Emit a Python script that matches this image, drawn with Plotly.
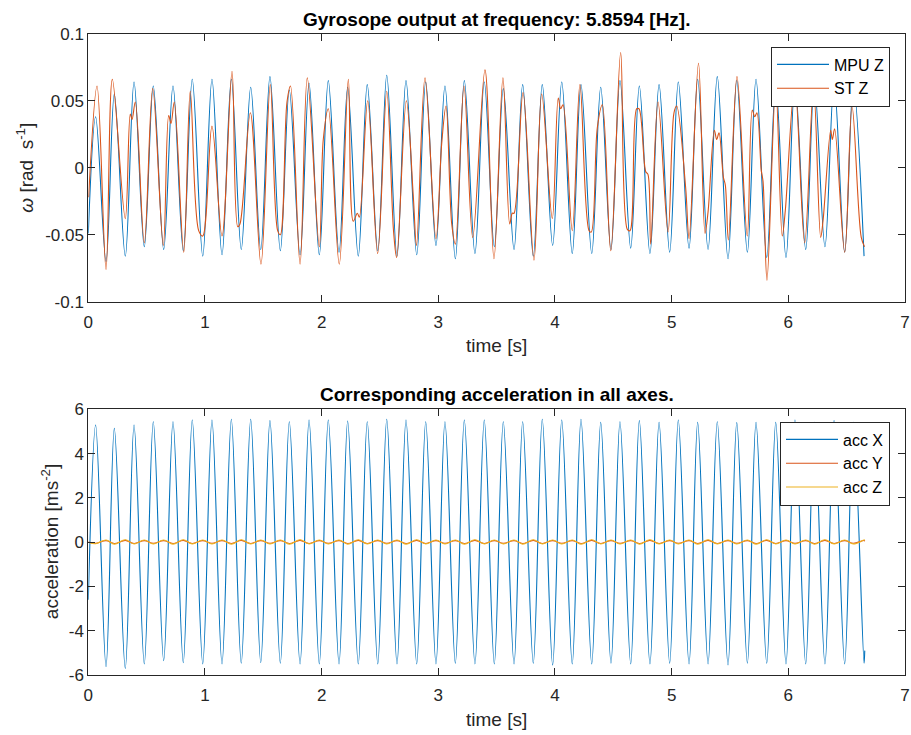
import plotly.graph_objects as go

# ---------------------------------------------------------------------------
# Extrema of the MPU Z gyro trace and of acc X (both share the same timing)
# ---------------------------------------------------------------------------
t_peaks = [0.063, 0.223, 0.392, 0.557, 0.726, 0.891, 1.060, 1.226, 1.392, 1.557,
           1.723, 1.892, 2.057, 2.223, 2.391, 2.558, 2.723, 2.892, 3.057, 3.223,
           3.394, 3.557, 3.723, 3.891, 4.058, 4.223, 4.392, 4.557, 4.723, 4.892,
           5.057, 5.223, 5.391, 5.558, 5.723, 5.892, 6.057, 6.223, 6.392, 6.557]
t_troughs = [0.152, 0.317, 0.480, 0.646, 0.814, 0.981, 1.146, 1.311, 1.478, 1.646,
             1.815, 1.980, 2.149, 2.314, 2.481, 2.646, 2.815, 2.980, 3.146, 3.314,
             3.480, 3.649, 3.814, 3.980, 4.148, 4.315, 4.480, 4.649, 4.814, 4.983,
             5.149, 5.312, 5.483, 5.649, 5.815, 5.980, 6.149, 6.314, 6.483, 6.649]

mpu_start = -0.049
mpu_peaks = [0.038, 0.055, 0.064, 0.061, 0.061, 0.066, 0.066, 0.066, 0.060, 0.068,
             0.058, 0.063, 0.065, 0.060, 0.062, 0.069, 0.065, 0.064, 0.061, 0.065,
             0.064, 0.059, 0.062, 0.062, 0.064, 0.062, 0.060, 0.065, 0.061, 0.062,
             0.064, 0.066, 0.068, 0.065, 0.066, 0.063, 0.064, 0.063, 0.064, 0.063]
mpu_troughs = [-0.070, -0.066, -0.059, -0.061, -0.062, -0.066, -0.065, -0.061, -0.061, -0.062,
               -0.065, -0.065, -0.063, -0.066, -0.062, -0.066, -0.065, -0.058, -0.068, -0.064,
               -0.059, -0.061, -0.066, -0.058, -0.064, -0.064, -0.061, -0.060, -0.064, -0.063,
               -0.060, -0.061, -0.068, -0.063, -0.067, -0.067, -0.061, -0.059, -0.063, -0.066]

# ST Z gyro trace (time [s], rate [rad/s]) including its shoulders and notches
st_t = [0.003, 0.075, 0.152, 0.206, 0.317, 0.360, 0.375, 0.403, 0.480, 0.552,
        0.643, 0.689, 0.709, 0.737, 0.818, 0.874, 0.946, 0.981, 1.060, 1.146,
        1.232, 1.281, 1.300, 1.389, 1.480, 1.560, 1.623, 1.646, 1.703, 1.733,
        1.815, 1.877, 1.980, 2.014, 2.057, 2.151, 2.229, 2.271, 2.306, 2.323,
        2.395, 2.480, 2.558, 2.616, 2.643, 2.726, 2.786, 2.813, 2.886, 2.980,
        3.029, 3.066, 3.115, 3.146, 3.220, 3.295, 3.400, 3.477, 3.554, 3.612,
        3.634, 3.649, 3.726, 3.820, 3.886, 3.977, 4.028, 4.049, 4.069, 4.148,
        4.214, 4.292, 4.311, 4.363, 4.406, 4.478, 4.563, 4.620, 4.643, 4.700,
        4.720, 4.778, 4.797, 4.820, 4.883, 4.969, 5.020, 5.043, 5.120, 5.149,
        5.230, 5.286, 5.312, 5.366, 5.386, 5.406, 5.443, 5.460, 5.486, 5.560,
        5.648, 5.691, 5.712, 5.731, 5.768, 5.783, 5.817, 5.892, 5.948, 5.974,
        6.055, 6.140, 6.216, 6.277, 6.297, 6.363, 6.377, 6.397, 6.483, 6.546,
        6.625, 6.653]
st_z = [-0.022, 0.061, -0.076, 0.066, -0.038, 0.040, 0.036, 0.049, -0.056, 0.059,
        -0.058, 0.039, 0.033, 0.049, -0.063, 0.057, -0.047, -0.051, 0.031, -0.051,
        0.072, -0.044, -0.042, 0.041, -0.072, 0.062, -0.047, -0.050, 0.049, 0.061,
        -0.072, 0.067, -0.059, 0.021, 0.044, -0.072, 0.066, -0.040, -0.034, -0.037,
        0.050, -0.064, 0.057, -0.047, -0.067, 0.050, -0.022, -0.058, 0.067, -0.053,
        0.018, 0.046, -0.042, -0.057, 0.061, -0.052, 0.073, -0.068, 0.067, -0.042,
        -0.034, -0.034, 0.056, -0.069, 0.055, -0.038, 0.052, 0.044, 0.047, -0.047,
        0.062, -0.047, -0.048, 0.030, 0.047, -0.062, 0.086, -0.046, -0.047, 0.044,
        0.044, -0.003, -0.005, -0.057, 0.049, -0.048, 0.041, 0.046, -0.015, -0.053,
        0.078, -0.049, -0.033, 0.028, 0.021, 0.026, -0.007, -0.013, -0.054, 0.068,
        -0.051, 0.043, 0.038, 0.041, -0.002, -0.010, -0.084, 0.060, -0.051, -0.032,
        0.062, -0.056, 0.060, -0.052, -0.040, 0.028, 0.021, 0.029, -0.063, 0.046,
        -0.052, -0.059]

# Accelerations [m/s^2] at the same extrema instants
acc_start = [-2.6, 0.00, 0.00]          # X, Y, Z at t = 0
acc_end_t = 6.655
acc_end = [-4.9, 0.04, 0.10]            # X, Y, Z at the last sample
accx_peaks = [5.29, 5.14, 5.29, 5.44, 5.44, 5.52, 5.52, 5.55, 5.55, 5.49,
              5.44, 5.52, 5.52, 5.47, 5.44, 5.55, 5.52, 5.44, 5.44, 5.52,
              5.52, 5.44, 5.44, 5.55, 5.52, 5.55, 5.41, 5.44, 5.49, 5.41,
              5.52, 5.41, 5.44, 5.40, 5.41, 5.41, 5.52, 5.41, 5.49, 5.41]
accx_troughs = [-5.62, -5.70, -5.50, -5.35, -5.44, -5.50, -5.50, -5.47, -5.44, -5.47,
                -5.50, -5.50, -5.50, -5.50, -5.50, -5.50, -5.50, -5.50, -5.47, -5.50,
                -5.50, -5.50, -5.47, -5.55, -5.50, -5.50, -5.47, -5.50, -5.50, -5.47,
                -5.50, -5.50, -5.55, -5.47, -5.47, -5.50, -5.50, -5.50, -5.50, -5.47]
accy_peaks = [-0.05, -0.06, -0.06, -0.05, -0.06, -0.06, -0.05, -0.06, -0.06, -0.05,
              -0.06, -0.06, -0.05, -0.06, -0.06, -0.05, -0.06, -0.06, -0.05, -0.06,
              -0.06, -0.05, -0.06, -0.06, -0.05, -0.06, -0.06, -0.05, -0.06, -0.06,
              -0.05, -0.06, -0.06, -0.05, -0.06, -0.06, -0.05, -0.06, -0.06, -0.05]
accy_troughs = [0.07, 0.08, 0.07, 0.07, 0.08, 0.07, 0.07, 0.08, 0.07, 0.07,
                0.08, 0.07, 0.07, 0.08, 0.07, 0.07, 0.08, 0.07, 0.07, 0.08,
                0.07, 0.07, 0.08, 0.07, 0.07, 0.08, 0.07, 0.07, 0.08, 0.07,
                0.07, 0.08, 0.07, 0.07, 0.08, 0.07, 0.07, 0.08, 0.07, 0.07]
accz_peaks = [-0.07, -0.09, -0.08, -0.08, -0.09, -0.08, -0.08, -0.09, -0.08, -0.08,
              -0.09, -0.08, -0.08, -0.09, -0.08, -0.08, -0.09, -0.08, -0.08, -0.09,
              -0.08, -0.08, -0.09, -0.08, -0.08, -0.09, -0.08, -0.08, -0.09, -0.08,
              -0.08, -0.09, -0.08, -0.08, -0.09, -0.08, -0.08, -0.09, -0.08, -0.08]
accz_troughs = [0.10, 0.11, 0.10, 0.10, 0.11, 0.10, 0.10, 0.11, 0.10, 0.10,
                0.11, 0.10, 0.10, 0.11, 0.10, 0.10, 0.11, 0.10, 0.10, 0.11,
                0.10, 0.10, 0.11, 0.10, 0.10, 0.11, 0.10, 0.10, 0.11, 0.10,
                0.10, 0.11, 0.10, 0.10, 0.11, 0.10, 0.10, 0.11, 0.10, 0.10]

# Axis ticks
x_ticks = [0, 1, 2, 3, 4, 5, 6, 7]
gyro_ticks = [-0.1, -0.05, 0, 0.05, 0.1]
gyro_ticktext = ["-0.1", "-0.05", "0", "0.05", "0.1"]
acc_ticks = [-6, -4, -2, 0, 2, 4, 6]
acc_ticktext = ["-6", "-4", "-2", "0", "2", "4", "6"]


def interleave(first, peaks, troughs):
    out = [first]
    for p, q in zip(peaks, troughs):
        out += [p, q]
    return out


t_cycle = interleave(0.0, t_peaks, t_troughs)
mpu_z = interleave(mpu_start, mpu_peaks, mpu_troughs)
t_acc = t_cycle + [acc_end_t]
acc_x = interleave(acc_start[0], accx_peaks, accx_troughs) + [acc_end[0]]
acc_y = interleave(acc_start[1], accy_peaks, accy_troughs) + [acc_end[1]]
acc_z = interleave(acc_start[2], accz_peaks, accz_troughs) + [acc_end[2]]

BLUE, RED, YELLOW = "#0072BD", "#D95319", "#EDB120"
INK = "#262626"
FONT = "Liberation Sans, Arial, Helvetica, sans-serif"
W, H = 911, 735

fig = go.Figure()


def line(x, y, name, color, xa, ya, legend):
    return go.Scatter(x=x, y=y, name=name, mode="lines", xaxis=xa, yaxis=ya,
                      legend=legend,
                      line=dict(color=color, width=1.1, shape="spline", smoothing=1.0))


fig.add_trace(line(t_cycle, mpu_z, "MPU Z", BLUE, "x", "y", "legend"))
fig.add_trace(line(st_t, st_z, "ST Z", RED, "x", "y", "legend"))
fig.add_trace(line(t_acc, acc_x, "acc X", BLUE, "x2", "y2", "legend2"))
fig.add_trace(line(t_acc, acc_y, "acc Y", RED, "x2", "y2", "legend2"))
fig.add_trace(line(t_acc, acc_z, "acc Z", YELLOW, "x2", "y2", "legend2"))

# axes boxes in pixel coordinates of the page
L, R = 88.3, 905.0
TOP1, BOT1 = 33.7, 301.7
TOP2, BOT2 = 409.3, 675.0


def px(x):
    return x / W


def py(y):
    return (H - y) / H


axis_common = dict(showline=True, linecolor=INK, linewidth=1, mirror="ticks",
                   ticks="inside", ticklen=7, tickcolor=INK, tickwidth=1,
                   showgrid=False, zeroline=False, automargin=False,
                   tickfont=dict(family=FONT, size=17, color=INK))

legend_common = dict(xanchor="right", yanchor="top", bgcolor="white",
                     bordercolor=INK, borderwidth=1,
                     font=dict(family=FONT, size=16, color="black"),
                     itemwidth=52, tracegroupgap=0)

fig.update_layout(
    width=W, height=H, margin=dict(l=0, r=0, t=0, b=0, pad=0, autoexpand=False),
    paper_bgcolor="white", plot_bgcolor="white",
    font=dict(family=FONT, color=INK),
    xaxis=dict(domain=[px(L), px(R)], range=[0, 7], tickvals=x_ticks, anchor="y",
               ticklabelstandoff=5, **axis_common),
    yaxis=dict(domain=[py(BOT1), py(TOP1)], range=[-0.1, 0.1], tickvals=gyro_ticks,
               ticktext=gyro_ticktext, anchor="x", **axis_common),
    xaxis2=dict(domain=[px(L), px(R)], range=[0, 7], tickvals=x_ticks, anchor="y2",
                ticklabelstandoff=5, **axis_common),
    yaxis2=dict(domain=[py(BOT2), py(TOP2)], range=[-6, 6], tickvals=acc_ticks,
                ticktext=acc_ticktext, anchor="x2", **axis_common),
    legend=dict(x=px(890), y=py(46.5), **legend_common),
    legend2=dict(x=px(890), y=py(421.5), **legend_common),
    showlegend=True,
)

annotations = [
    dict(text="<b>Gyrosope output at frequency: 5.8594 [Hz].</b>", x=px((L + R) / 2), y=py(19),
         font=dict(size=19, color="black")),
    dict(text="<b>Corresponding acceleration in all axes.</b>", x=px((L + R) / 2), y=py(395),
         font=dict(size=19, color="black")),
    dict(text="time [s]", x=px((L + R) / 2), y=py(346), font=dict(size=19, color=INK)),
    dict(text="time [s]", x=px((L + R) / 2), y=py(719), font=dict(size=19, color=INK)),
    dict(text="<i>ω</i> [rad  s<sup>-1</sup>]", x=px(25), y=py((TOP1 + BOT1) / 2),
         textangle=-90, font=dict(size=19, color=INK)),
    dict(text="acceleration [ms<sup>-2</sup>]", x=px(50), y=py((TOP2 + BOT2) / 2),
         textangle=-90, font=dict(size=19, color=INK)),
]
for a in annotations:
    a.update(xref="paper", yref="paper", showarrow=False, xanchor="center", yanchor="middle")
    a["font"]["family"] = FONT
fig.update_layout(annotations=annotations)

# figure fills the page edge to edge
fig.write_html("out.html",
               post_script="document.body.style.margin='0';document.body.style.overflow='hidden';")
